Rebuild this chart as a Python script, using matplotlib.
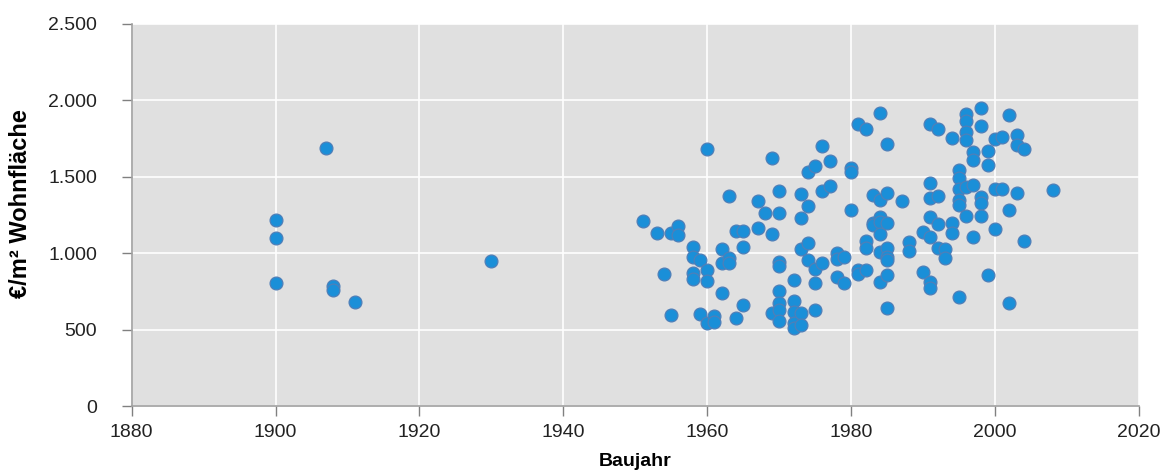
import matplotlib
matplotlib.use("Agg")
import matplotlib.pyplot as plt
from matplotlib.ticker import FuncFormatter

plt.rcParams['font.family'] = ['Liberation Sans', 'DejaVu Sans']

# Baujahr / Preis je m² Wohnfläche
baujahr = [
    1900, 1900, 1900, 1907, 1908, 1908, 1911, 1930,
    1951, 1953, 1954, 1955, 1955, 1956, 1956, 1958, 1958, 1958, 1958, 1959, 1959,
    1960, 1960, 1960, 1960, 1961, 1961, 1962, 1962, 1962, 1963, 1963, 1963,
    1964, 1964, 1965, 1965, 1965, 1967, 1967, 1968, 1969, 1969, 1969,
    1970, 1970, 1970, 1970, 1970, 1970, 1970, 1970,
    1972, 1972, 1972, 1972, 1972, 1973, 1973, 1973, 1973, 1973,
    1974, 1974, 1974, 1974, 1975, 1975, 1975, 1975, 1976, 1976, 1976,
    1977, 1977, 1978, 1978, 1978, 1979, 1979,
    1980, 1980, 1980, 1981, 1981, 1981, 1982, 1982, 1982, 1982,
    1983, 1983, 1983, 1984, 1984, 1984, 1984, 1984, 1984, 1984,
    1985, 1985, 1985, 1985, 1985, 1985, 1985, 1985, 1987, 1988, 1988,
    1990, 1990, 1991, 1991, 1991, 1991, 1991, 1991, 1991,
    1992, 1992, 1992, 1992, 1993, 1993, 1994, 1994, 1994,
    1995, 1995, 1995, 1995, 1995, 1995, 1996, 1996, 1996, 1996, 1996, 1996,
    1997, 1997, 1997, 1997, 1998, 1998, 1998, 1998, 1998, 1999, 1999, 1999,
    2000, 2000, 2000, 2001, 2001, 2002, 2002, 2002, 2003, 2003, 2003,
    2004, 2004, 2008,
]
preis = [
    1216, 1098, 804, 1686, 788, 760, 680, 948,
    1209, 1133, 865, 1133, 596, 1178, 1120, 1043, 978, 869, 830, 959, 604,
    1683, 891, 819, 547, 591, 553, 1026, 939, 739, 1374, 967, 939,
    1148, 576, 1148, 1043, 662, 1341, 1167, 1265, 1624, 1124, 612,
    1409, 1265, 941, 920, 754, 678, 630, 557,
    826, 689, 615, 543, 511, 1391, 1233, 1030, 612, 533,
    1533, 1313, 1065, 957, 1574, 900, 809, 630, 1700, 1409, 939,
    1602, 1439, 1000, 965, 843, 974, 809,
    1555, 1533, 1285, 1844, 891, 865, 1816, 1083, 1033, 891,
    1381, 1200, 1185, 1918, 1352, 1239, 1207, 1126, 1007, 815,
    1718, 1392, 1196, 1033, 978, 957, 859, 646, 1343, 1076, 1015,
    1141, 880, 1843, 1461, 1365, 1235, 1109, 815, 772,
    1815, 1374, 1191, 1033, 1026, 967, 1757, 1196, 1130,
    1544, 1490, 1424, 1348, 1315, 713, 1914, 1866, 1794, 1740, 1431, 1243,
    1663, 1609, 1446, 1109, 1953, 1831, 1370, 1330, 1243, 1668, 1576, 857,
    1751, 1418, 1159, 1761, 1424, 1903, 1283, 674, 1772, 1706, 1392,
    1683, 1083, 1417,
]

x_ticks = [1880, 1900, 1920, 1940, 1960, 1980, 2000, 2020]
y_ticks = [0, 500, 1000, 1500, 2000, 2500]

fig = plt.figure(figsize=(11.64, 4.72), dpi=100)
ax = fig.add_axes([0.1131, 0.1392, 0.8654, 0.81])
ax.set_facecolor("#e0e0e0")

ax.scatter(baujahr, preis, s=85, color="#1a8fd8", edgecolors="#4f7fb8",
           linewidths=0.9, zorder=3)

ax.set_xlim(1880, 2020)
ax.set_ylim(0, 2500)
ax.set_xticks(x_ticks)
ax.set_yticks(y_ticks)
ax.yaxis.set_major_formatter(FuncFormatter(lambda v, p: f"{int(v):,}".replace(",", ".")))

ax.grid(True, color="white", linewidth=1.2, zorder=0)
ax.set_axisbelow(True)

for side in ["top", "right"]:
    ax.spines[side].set_visible(False)
for side in ["left", "bottom"]:
    ax.spines[side].set_color("#a0a0a0")
    ax.spines[side].set_linewidth(1.2)

ax.tick_params(axis="both", direction="out", length=7, width=1, color="#808080",
               labelsize=14, labelcolor="#222222")
ax.tick_params(axis="x", pad=6)
ax.tick_params(axis="y", pad=18)

ax.set_xlabel("Baujahr", fontsize=14, fontweight="bold")
ax.xaxis.set_label_coords(0.5, -0.122)
ax.set_ylabel("€/m² Wohnfläche", fontsize=17, fontweight="bold")
ax.yaxis.set_label_coords(-0.099, 0.53)

fig.savefig("out.png", dpi=100)
